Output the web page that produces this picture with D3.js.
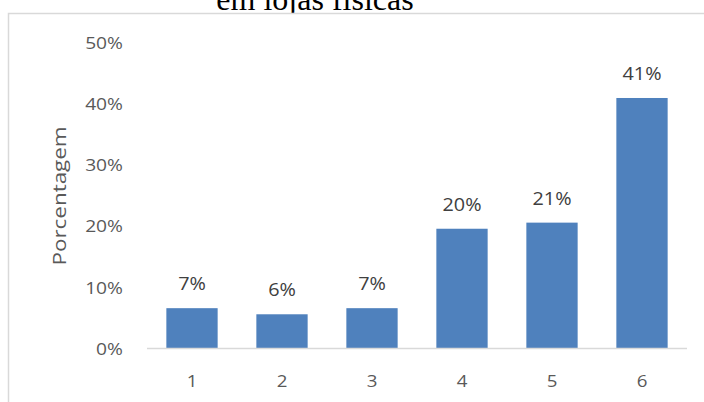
<!DOCTYPE html>
<html>
<head>
<meta charset="utf-8">
<script src="https://cdn.jsdelivr.net/npm/d3@7/dist/d3.min.js"></script>
<style>
  html, body { margin: 0; padding: 0; background: #fff; }
  svg { display: block; }
</style>
</head>
<body>
<svg id="chart" width="704" height="402"></svg>
<script>
// Chart content
const titleText = "em lojas físicas";
const yTitle = "Porcentagem";
const categories = ["1", "2", "3", "4", "5", "6"];
const values = [0.066, 0.056, 0.066, 0.196, 0.206, 0.41];
const yTicks = [0, 0.1, 0.2, 0.3, 0.4, 0.5];

const svg = d3.select("#chart");
const font = "'Open Sans', 'Noto Sans', sans-serif";
const pct = d3.format(".0%");

// widen glyphs horizontally by factor k
function stretch(sel, k) {
  sel.each(function () {
    const w = this.getComputedTextLength();
    this.setAttribute("textLength", w * k);
    this.setAttribute("lengthAdjust", "spacingAndGlyphs");
  });
}

// Title (sits partly above the chart area)
svg.append("text")
  .attr("x", 315).attr("y", 10)
  .attr("text-anchor", "middle")
  .attr("font-family", "'Liberation Serif', 'Times New Roman', serif")
  .attr("font-size", 32)
  .attr("fill", "#000")
  .text(titleText);

// Chart area frame
svg.append("rect")
  .attr("x", 8.5).attr("y", 13.5)
  .attr("width", 760).attr("height", 460)
  .attr("fill", "#fff")
  .attr("stroke", "#d9d9d9")
  .attr("stroke-width", 1.5);

const x = d3.scaleBand()
  .domain(categories)
  .range([147, 687])
  .paddingInner(0.43)
  .paddingOuter(0.215);

const y = d3.scaleLinear()
  .domain([0, 0.5])
  .range([348.5, 43]);

// Y tick labels
const yt = svg.append("g").selectAll("text")
  .data(yTicks).join("text")
  .attr("x", 123)
  .attr("y", d => y(d))
  .attr("dy", "0.36em")
  .attr("text-anchor", "end")
  .attr("font-family", font)
  .attr("font-size", 17)
  .attr("fill", "#595959")
  .text(d => pct(d));
stretch(yt, 1.13);

// Bars
svg.append("g").selectAll("rect")
  .data(values).join("rect")
  .attr("x", (d, i) => x(categories[i]))
  .attr("y", d => y(d))
  .attr("width", x.bandwidth())
  .attr("height", d => y(0) - y(d))
  .attr("fill", "#4f81bd");

// Baseline
svg.append("line")
  .attr("x1", 147).attr("x2", 687)
  .attr("y1", y(0)).attr("y2", y(0))
  .attr("stroke", "#d9d9d9")
  .attr("stroke-width", 1.5);

// Data labels
const dl = svg.append("g").selectAll("text")
  .data(values).join("text")
  .attr("x", (d, i) => x(categories[i]) + x.bandwidth() / 2)
  .attr("y", d => y(d) - 18)
  .attr("text-anchor", "middle")
  .attr("font-family", font)
  .attr("font-size", 18)
  .attr("fill", "#404040")
  .text(d => pct(d));
stretch(dl, 1.1);

// X category labels
const xl = svg.append("g").selectAll("text")
  .data(categories).join("text")
  .attr("x", d => x(d) + x.bandwidth() / 2)
  .attr("y", 387)
  .attr("text-anchor", "middle")
  .attr("font-family", font)
  .attr("font-size", 17)
  .attr("fill", "#595959")
  .text(d => d);
stretch(xl, 1.1);

// Y axis title
const yl = svg.append("text")
  .attr("transform", "translate(66,196) rotate(-90)")
  .attr("text-anchor", "middle")
  .attr("font-family", font)
  .attr("font-size", 19)
  .attr("fill", "#595959")
  .text(yTitle);
stretch(yl, 1.18);
</script>
</body>
</html>
